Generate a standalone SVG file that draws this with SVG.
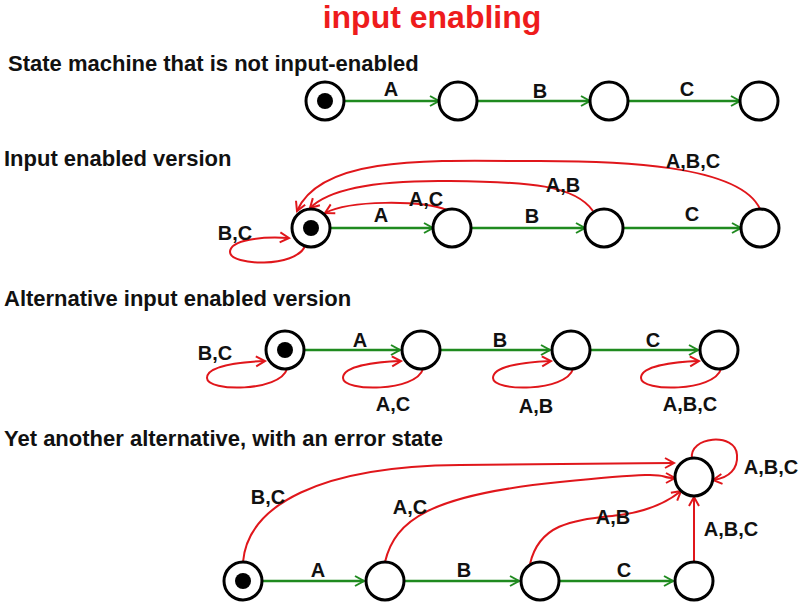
<svg xmlns="http://www.w3.org/2000/svg" width="809" height="607" viewBox="0 0 809 607">
<defs>
<marker id="ag" viewBox="0 0 10 10" refX="9" refY="5" markerWidth="10" markerHeight="10" markerUnits="userSpaceOnUse" orient="auto" overflow="visible">
<path d="M0,0 L9,5 L0,10" fill="none" stroke="#1f8a1f" stroke-width="2"/>
</marker>
<marker id="ar" viewBox="0 0 10 10" refX="9" refY="5" markerWidth="10" markerHeight="10" markerUnits="userSpaceOnUse" orient="auto" overflow="visible">
<path d="M0,0 L9,5 L0,10" fill="none" stroke="#e0161b" stroke-width="2"/>
</marker>
</defs>
<style>
.st{fill:#fff;stroke:#000;stroke-width:3}
.dot{fill:#000}
.g{fill:none;stroke:#1f8a1f;stroke-width:2.4;marker-end:url(#ag)}
.r{fill:none;stroke:#e0161b;stroke-width:2;marker-end:url(#ar)}
text{font-family:"Liberation Sans",Arial,sans-serif;font-weight:bold}
.h{font-size:22px;fill:#111}
.l{font-size:20px;fill:#111;text-anchor:middle}
.t{font-size:32px;fill:#ee1c1c;text-anchor:middle}
</style>
<rect width="809" height="607" fill="#fff"/>
<text class="t" x="432" y="28">input enabling</text>
<text class="h" x="8" y="71">State machine that is not input-enabled</text>
<text class="h" x="4" y="166">Input enabled version</text>
<text class="h" x="4" y="306">Alternative input enabled version</text>
<text class="h" x="4" y="446">Yet another alternative, with an error state</text>

<g id="connectors">
<!-- row 1 -->
<path class="g" d="M344,101 L439,101"/>
<path class="g" d="M477,101 L590,101"/>
<path class="g" d="M628,101 L740,101"/>
<!-- row 2 -->
<path class="g" d="M330,228 L433,228"/>
<path class="g" d="M471,228 L585,228"/>
<path class="g" d="M623,228 L741,228"/>
<path class="r" d="M447,210 C420,200 350,200 325,213"/>
<path class="r" d="M593,211 C575,185 530,182 450,181 C380,180 330,188 310,208"/>
<path class="r" d="M760,209 C740,165 620,160 520,161 C420,160 320,158 297,211"/>
<path class="r" d="M305,246 C296,268 230,266 230,252 C230,240 262,236 289,238"/>
<!-- row 3 -->
<path class="g" d="M304,350 L400,350"/>
<path class="g" d="M440,350 L550,350"/>
<path class="g" d="M590,350 L698,350"/>
<path class="r" d="M287,369 C280,392 207,392 207,378 C207,366 240,362 265,361"/>
<path class="r" d="M423,369 C416,392 343,392 343,378 C343,366 376,362 401,361"/>
<path class="r" d="M573,369 C566,392 493,392 493,378 C493,366 526,362 551,361"/>
<path class="r" d="M721,369 C714,392 641,392 641,378 C641,366 674,362 699,361"/>
<!-- row 4 -->
<path class="g" d="M262,581 L364,581"/>
<path class="g" d="M404,581 L519,581"/>
<path class="g" d="M559,581 L673,581"/>
<path class="r" d="M243,562 C248,505 320,466 460,465 S620,463 674,463"/>
<path class="r" d="M385,562 C395,520 430,495 560,482 S650,478 675,478"/>
<path class="r" d="M530,564 C540,520 580,520 620,515 C650,511 670,500 681,491"/>
<path class="r" d="M694,562 L694,497"/>
<path class="r" d="M692,459 C688,436 736,432 737,455 C738,468 730,478 713,480"/>
</g>

<g id="row1">
<g id="r1s0"><circle class="st" cx="325" cy="101" r="19"/><circle class="dot" cx="325" cy="101" r="8"/></g>
<g id="r1s1"><circle class="st" cx="458" cy="101" r="19"/></g>
<g id="r1s2"><circle class="st" cx="609" cy="101" r="19"/></g>
<g id="r1s3"><circle class="st" cx="759" cy="101" r="19"/></g>
</g>
<g id="row2">
<g id="r2s0"><circle class="st" cx="311" cy="228" r="19"/><circle class="dot" cx="311" cy="228" r="8"/></g>
<g id="r2s1"><circle class="st" cx="452" cy="228" r="19"/></g>
<g id="r2s2"><circle class="st" cx="604" cy="228" r="19"/></g>
<g id="r2s3"><circle class="st" cx="760" cy="228" r="19"/></g>
</g>
<g id="row3">
<g id="r3s0"><circle class="st" cx="285" cy="350" r="19"/><circle class="dot" cx="285" cy="350" r="8"/></g>
<g id="r3s1"><circle class="st" cx="421" cy="350" r="19"/></g>
<g id="r3s2"><circle class="st" cx="571" cy="350" r="19"/></g>
<g id="r3s3"><circle class="st" cx="719" cy="350" r="19"/></g>
</g>
<g id="row4">
<g id="r4s0"><circle class="st" cx="243" cy="581" r="19"/><circle class="dot" cx="243" cy="581" r="8"/></g>
<g id="r4s1"><circle class="st" cx="385" cy="581" r="19"/></g>
<g id="r4s2"><circle class="st" cx="540" cy="581" r="19"/></g>
<g id="r4s3"><circle class="st" cx="694" cy="581" r="19"/></g>
<g id="r4err"><circle class="st" cx="694" cy="477" r="19"/></g>
</g>

<g id="labels">
<text class="l" x="391" y="96">A</text>
<text class="l" x="540" y="98">B</text>
<text class="l" x="687" y="96">C</text>

<text class="l" x="381" y="222">A</text>
<text class="l" x="532" y="223">B</text>
<text class="l" x="692" y="221">C</text>
<text class="l" x="426" y="206">A,C</text>
<text class="l" x="563" y="192">A,B</text>
<text class="l" x="693" y="168">A,B,C</text>
<text class="l" x="235" y="240">B,C</text>

<text class="l" x="360" y="347">A</text>
<text class="l" x="500" y="347">B</text>
<text class="l" x="653" y="347">C</text>
<text class="l" x="215" y="360">B,C</text>
<text class="l" x="393" y="411">A,C</text>
<text class="l" x="536" y="413">A,B</text>
<text class="l" x="690" y="411">A,B,C</text>

<text class="l" x="318" y="577">A</text>
<text class="l" x="464" y="577">B</text>
<text class="l" x="624" y="577">C</text>
<text class="l" x="268" y="504">B,C</text>
<text class="l" x="410" y="514">A,C</text>
<text class="l" x="613" y="524">A,B</text>
<text class="l" x="731" y="536">A,B,C</text>
<text class="l" x="771" y="474">A,B,C</text>
</g>
</svg>
